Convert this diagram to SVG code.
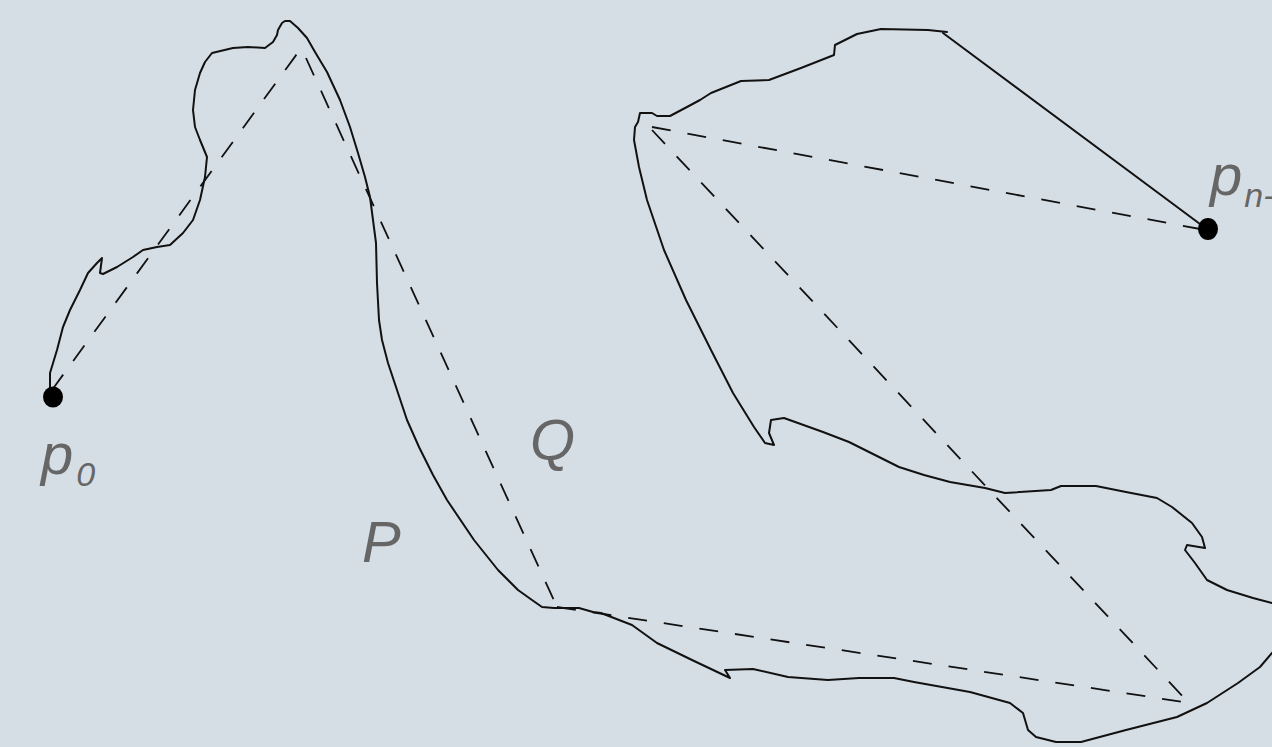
<svg xmlns="http://www.w3.org/2000/svg" width="1272" height="747" viewBox="0 0 1272 747">
<style>
.bg{fill:#d6dee5}
.curve{fill:none;stroke:#111;stroke-width:2;stroke-linejoin:round;stroke-linecap:round}
.dash{fill:none;stroke:#111;stroke-width:1.8;stroke-dasharray:19 17}
.pt{fill:#000}
.lbl{font-family:"Liberation Sans",Arial,sans-serif;font-style:italic;fill:#666;font-size:58px}
.sub{font-size:34px}
</style>
<rect class="bg" x="0" y="0" width="1272" height="747"/>
<g id="curve-P">
<polyline class="curve" points="50,390 50,373 57,350 63,327 70,310 80,290 88,273 97,263 102,258 100,273 103,274 117,267 133,257 143,250 157,247 170,245 183,233 193,220 200,200 205,177 207,157 200,140 195,127 193,110 195,90 200,73 205,62 212,53 233,48 248,47 265,48 273,42 277,35 278,30 282,23 285,21 290,21 298,28 307,38 315,52 327,72 340,100 350,127 358,153 365,177 370,197 373,220 376,243 377,283 379,320 382,340 388,363 398,393 407,420 419,447 433,475 447,500 474,540 498,570 518,590 532,600 542,607 554,608 579,608 593,612 601,613 632,625 657,643 692,660 730,678 725,670 753,669 788,677 828,680 859,678 894,678 914,682 970,692 1010,703 1023,713 1028,730 1036,737 1056,742 1081,742 1126,730 1177,717 1207,703 1238,683 1260,667 1272,653 1290,630 1290,606 1272,603 1253,598 1227,590 1207,580 1195,563 1185,550 1187,545 1205,548 1202,537 1192,523 1172,507 1157,498 1126,492 1096,486 1061,486 1051,490 1005,493 985,488 950,482 924,475 899,467 879,457 849,442 823,432 784,418 771,420 769,433 774,445 765,443 754,427 733,393 711,350 686,300 664,250 647,200 639,167 634,140 635,127 638,122 640,113 652,113 657,116 670,116 687,107 700,100 711,93 741,81 769,80 801,68 834,55 835,45 857,34 881,29 928,30 947,32"/>
<line class="curve" x1="943" y1="33" x2="1200" y2="224"/>
</g>
<g id="connectors">
<line class="dash" x1="52" y1="390" x2="302" y2="47"/>
<line class="dash" x1="306" y1="58" x2="557" y2="607"/>
<line class="dash" x1="557" y1="607" x2="1190" y2="703"/>
<line class="dash" x1="652" y1="130" x2="1188" y2="702"/>
<line class="dash" x1="652" y1="127" x2="1200" y2="229"/>
</g>
<g id="node-p0">
<ellipse class="pt" cx="53" cy="397" rx="10" ry="10.5"/>
<text class="lbl" x="41" y="474">p<tspan class="sub" dx="3" dy="12">0</tspan></text>
</g>
<g id="node-pn">
<ellipse class="pt" cx="1208" cy="229" rx="10" ry="11"/>
<text class="lbl" x="1210" y="195">p<tspan class="sub" dx="2" dy="12">n-1</tspan></text>
</g>
<g id="label-P">
<text class="lbl" x="362" y="562">P</text>
</g>
<g id="label-Q">
<text class="lbl" x="530" y="460">Q</text>
</g>
</svg>
